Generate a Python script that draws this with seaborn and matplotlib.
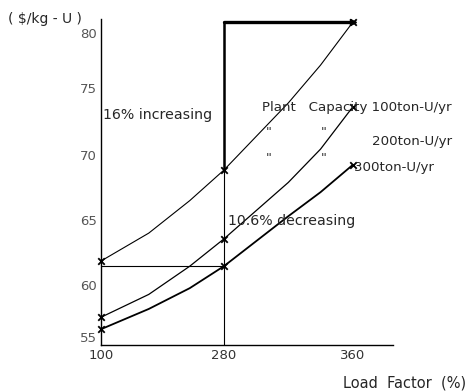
import numpy as np
import pandas as pd
import matplotlib
matplotlib.use("Agg")
import matplotlib.pyplot as plt
import seaborn as sns

# values
load_factor = [100, 170, 230, 280, 320, 340, 360]
cost_100 = [61.85, 64.0, 66.5, 68.85, 73.9, 77.1, 81.0]
cost_200 = [56.9, 59.1, 61.45, 63.55, 67.9, 70.45, 73.6]
cost_300 = [55.75, 57.7, 59.7, 61.45, 65.3, 67.15, 69.25]
marked_lf = [100, 280, 360]
x_ticks = [100, 280, 360]
y_ticks = [55, 60, 65, 70, 75, 80]

sns.set_style("white")
plt.rcParams['font.family'] = ['DejaVu Sans']


def piecewise(xp, fp):
    # piecewise linear map, extrapolated at both ends (the scan's axes are uneven)
    xp = np.asarray(xp, float)
    fp = np.asarray(fp, float)
    lo = (fp[1] - fp[0]) / (xp[1] - xp[0])
    hi = (fp[-1] - fp[-2]) / (xp[-1] - xp[-2])

    def f(v):
        v = np.asarray(v, float)
        out = np.interp(v, xp, fp)
        out = np.where(v < xp[0], fp[0] + (v - xp[0]) * lo, out)
        out = np.where(v > xp[-1], fp[-1] + (v - xp[-1]) * hi, out)
        return out
    return f


x_px = [0, 123, 252]
y_px = [0, 52, 117, 182, 249, 304]

df = pd.DataFrame({
    'lf': load_factor * 3,
    'cost': cost_100 + cost_200 + cost_300,
    'cap': ['100'] * 7 + ['200'] * 7 + ['300'] * 7,
})
marks = df[df['lf'].isin(marked_lf)]

fig = plt.figure(figsize=(4.68, 3.92), dpi=100)
ax = fig.add_axes([101 / 468, 47 / 392, 292 / 468, 326 / 392])
ax.set_xscale('function', functions=(piecewise(x_ticks, x_px), piecewise(x_px, x_ticks)))
ax.set_yscale('function', functions=(piecewise(y_ticks, y_px), piecewise(y_px, y_ticks)))

widths = {'100': 0.8, '200': 0.9, '300': 1.3}
for cap, w in widths.items():
    sub = df[df['cap'] == cap]
    sns.lineplot(data=sub, x='lf', y='cost', color='black', lw=w, ax=ax,
                 sort=False, legend=False, clip_on=False)
sns.scatterplot(data=marks, x='lf', y='cost', marker='x', color='black', s=22,
                linewidth=1.3, ax=ax, legend=False, clip_on=False, zorder=5)

# guide lines: 16% increase / 10.6% decrease
top = cost_100[-1]
ax.plot([280, 280], [54.2, top], color='black', lw=0.8)
ax.plot([280, 280], [cost_100[3], top], color='black', lw=1.8)
ax.plot([280, 360], [top, top], color='black', lw=2.4, solid_capstyle='round')
ax.plot([360], [top], marker='>', color='black', ms=4)
ax.plot([100, 280], [cost_300[3], cost_300[3]], color='black', lw=0.8)

ax.set_xlim(100, 385)
ax.set_ylim(54.23, 81.3)
ax.set_xticks(x_ticks)
ax.set_xticklabels([str(t) for t in x_ticks], fontsize=9.5, color='#333')
ax.set_yticks(y_ticks)
ax.set_yticklabels([str(t) for t in y_ticks], fontsize=9.5, color='#555')
ax.tick_params(axis='both', direction='in', length=3, width=0.8, pad=3)
ax.set_xlabel('')
ax.set_ylabel('')
for s in ['top', 'right']:
    ax.spines[s].set_visible(False)
for s in ['left', 'bottom']:
    ax.spines[s].set_color('black')
    ax.spines[s].set_linewidth(1.0)

W, H = 468, 392


def txt(x, y, s, **kw):
    fig.text(x / W, 1 - y / H, s, va='center', **kw)


txt(8, 19, '( $/kg - U )', fontsize=10)
txt(103, 115, '16% increasing', fontsize=10.2)
txt(262, 108, 'Plant   Capacity 100ton-U/yr', fontsize=9.6)
txt(266, 133, '"', fontsize=9)
txt(321, 133, '"', fontsize=9)
txt(372, 142, '200ton-U/yr', fontsize=9.6)
txt(266, 158, '"', fontsize=9)
txt(321, 158, '"', fontsize=9)
txt(354, 168, '300ton-U/yr', fontsize=9.6)
txt(228, 221, '10.6% decreasing', fontsize=10.2)
txt(466, 383, 'Load  Factor  (%)', fontsize=10.5, ha='right')

fig.savefig('out.png', dpi=100)
